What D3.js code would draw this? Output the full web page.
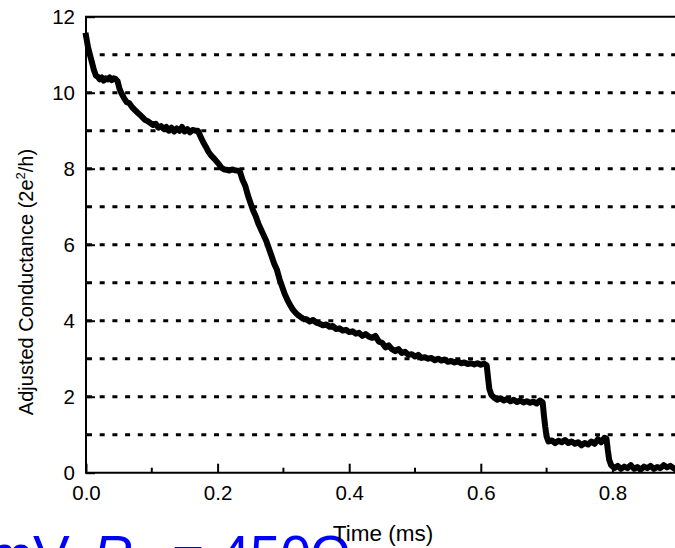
<!DOCTYPE html>
<html>
<head>
<meta charset="utf-8">
<script src="https://cdn.jsdelivr.net/npm/d3@7"></script>
<style>
  html, body { margin: 0; padding: 0; background: #fff; overflow: hidden; }
  svg { display: block; font-family: "Liberation Sans", Arial, sans-serif; }
</style>
</head>
<body>
<div id="chart"></div>
<script>
// time (ms) and adjusted conductance (2e^2/h)
const timeMs = [
  0.000, 0.003, 0.006, 0.009, 0.012, 0.015, 0.018, 0.021, 0.024, 0.027,
  0.030, 0.033, 0.036, 0.039, 0.042, 0.045, 0.048, 0.051, 0.054, 0.058,
  0.062, 0.066, 0.070, 0.074, 0.078, 0.082, 0.086, 0.090, 0.094, 0.098,
  0.102, 0.106, 0.110, 0.114, 0.118, 0.122, 0.126, 0.130, 0.134, 0.138,
  0.142, 0.146, 0.150, 0.154, 0.158, 0.162, 0.166, 0.170, 0.174, 0.178,
  0.182, 0.186, 0.190, 0.194, 0.198, 0.202, 0.206, 0.210, 0.214, 0.218,
  0.222, 0.226, 0.230, 0.234, 0.238, 0.242, 0.246, 0.250, 0.254, 0.258,
  0.262, 0.266, 0.270, 0.274, 0.278, 0.282, 0.286, 0.290, 0.294, 0.298,
  0.302, 0.306, 0.310, 0.314, 0.318, 0.322, 0.326, 0.330, 0.335, 0.340,
  0.345, 0.350, 0.355, 0.360, 0.365, 0.370, 0.375, 0.380, 0.385, 0.390,
  0.395, 0.400, 0.405, 0.410, 0.415, 0.420, 0.425, 0.430, 0.435, 0.440,
  0.445, 0.450, 0.455, 0.460, 0.465, 0.470, 0.475, 0.480, 0.485, 0.490,
  0.495, 0.500, 0.505, 0.510, 0.515, 0.520, 0.525, 0.530, 0.535, 0.540,
  0.545, 0.550, 0.555, 0.560, 0.565, 0.570, 0.575, 0.580, 0.585, 0.590,
  0.595, 0.600, 0.605, 0.609, 0.611, 0.613, 0.616, 0.620, 0.625, 0.630,
  0.635, 0.640, 0.645, 0.650, 0.655, 0.660, 0.665, 0.670, 0.675, 0.680,
  0.685, 0.690, 0.694, 0.696, 0.698, 0.700, 0.703, 0.708, 0.713, 0.718,
  0.723, 0.728, 0.733, 0.738, 0.743, 0.748, 0.753, 0.758, 0.763, 0.768,
  0.773, 0.778, 0.783, 0.788, 0.791, 0.793, 0.795, 0.798, 0.803, 0.808,
  0.813, 0.818, 0.823, 0.828, 0.833, 0.838, 0.843, 0.848, 0.853, 0.858,
  0.863, 0.868, 0.873, 0.878, 0.883, 0.888, 0.893
]
const conductance = [
  11.50, 11.20, 11.00, 10.80, 10.60, 10.45, 10.42, 10.35, 10.40, 10.32,
  10.38, 10.35, 10.40, 10.33, 10.38, 10.36, 10.30, 10.10, 9.98, 9.85,
  9.75, 9.72, 9.62, 9.55, 9.48, 9.42, 9.35, 9.28, 9.25, 9.20,
  9.15, 9.18, 9.08, 9.12, 9.05, 9.10, 9.00, 9.08, 8.98, 9.06,
  9.00, 9.10, 8.98, 9.04, 8.96, 9.02, 9.00, 9.00, 8.85, 8.70,
  8.58, 8.45, 8.35, 8.28, 8.20, 8.12, 8.02, 7.98, 7.97, 7.95,
  7.98, 7.96, 7.95, 7.92, 7.70, 7.55, 7.30, 7.10, 6.90, 6.75,
  6.55, 6.40, 6.25, 6.10, 5.90, 5.70, 5.50, 5.35, 5.10, 4.90,
  4.70, 4.55, 4.42, 4.30, 4.22, 4.15, 4.10, 4.05, 4.04, 3.98,
  4.02, 3.95, 3.92, 3.88, 3.90, 3.84, 3.86, 3.78, 3.80, 3.74,
  3.76, 3.70, 3.72, 3.66, 3.68, 3.60, 3.65, 3.58, 3.55, 3.60,
  3.45, 3.42, 3.30, 3.35, 3.25, 3.20, 3.25, 3.15, 3.18, 3.10,
  3.12, 3.06, 3.10, 3.02, 3.04, 3.00, 3.02, 2.96, 3.00, 2.95,
  2.98, 2.92, 2.94, 2.90, 2.93, 2.88, 2.90, 2.86, 2.88, 2.85,
  2.88, 2.84, 2.87, 2.82, 2.50, 2.20, 2.05, 1.98, 1.92, 1.96,
  1.90, 1.94, 1.88, 1.92, 1.86, 1.90, 1.85, 1.88, 1.84, 1.87,
  1.82, 1.90, 1.85, 1.50, 1.20, 0.95, 0.82, 0.85, 0.78, 0.84,
  0.80, 0.86, 0.78, 0.82, 0.76, 0.80, 0.72, 0.78, 0.74, 0.82,
  0.76, 0.88, 0.80, 0.92, 0.90, 0.60, 0.35, 0.20, 0.12, 0.18,
  0.10, 0.16, 0.12, 0.20, 0.10, 0.15, 0.08, 0.16, 0.12, 0.18,
  0.10, 0.15, 0.12, 0.20, 0.14, 0.18, 0.12
]
const gridLevels = [1, 2, 3, 4, 5, 6, 7, 8, 9, 10, 11]
const xTicks = [0, 0.2, 0.4, 0.6, 0.8]
const xMinorTicks = [0.1, 0.3, 0.5, 0.7, 0.9]
const yTicks = [0, 2, 4, 6, 8, 10, 12]

const width = 675
const height = 548
const plotLeft = 86
const plotTop = 16.7
const plotBottom = 472.7
const plotRight = plotLeft + 658 // axis runs past the cropped edge

const x = d3.scaleLinear().domain([0, 1]).range([plotLeft, plotRight])
const y = d3.scaleLinear().domain([0, 12]).range([plotBottom, plotTop])

const svg = d3.select('#chart')
  .append('svg')
  .attr('width', width)
  .attr('height', height)

// blue caption from the slide, cut off by the bottom edge, behind the axis title
const caption = svg.append('g')
  .attr('fill', '#0000ff')
  .attr('font-size', 55)
caption.append('text').attr('x', 80).attr('y', 574).attr('text-anchor', 'end').text('mV,')
caption.append('text').attr('x', 93).attr('y', 574).attr('font-style', 'italic').text('R')
caption.append('text').attr('x', 131).attr('y', 584).attr('font-size', 36).text('s')
caption.append('text').attr('x', 172).attr('y', 574).text('= 450')
caption.append('text').attr('x', 310).attr('y', 574).text('Ω')

// dotted levels
svg.append('g')
  .selectAll('line')
  .data(gridLevels)
  .join('line')
  .attr('x1', plotLeft + 1)
  .attr('x2', plotRight)
  .attr('y1', d => y(d))
  .attr('y2', d => y(d))
  .attr('stroke', '#000')
  .attr('stroke-width', 3)
  .attr('stroke-dasharray', '5,7.7')

// trace
const points = timeMs.map((t, i) => [t, conductance[i]])
svg.append('path')
  .datum(points)
  .attr('fill', 'none')
  .attr('stroke', '#000')
  .attr('stroke-width', 6)
  .attr('stroke-linejoin', 'round')
  .attr('stroke-linecap', 'square')
  .attr('d', d3.line().x(d => x(d[0])).y(d => y(d[1])))

// frame
svg.append('path')
  .attr('d', `M${plotRight},${plotTop}H${plotLeft}V${plotBottom}H${plotRight}`)
  .attr('fill', 'none')
  .attr('stroke', '#000')
  .attr('stroke-width', 2)

// x axis, ticks pointing inward
const xAxis = svg.append('g')
  .attr('transform', `translate(0,${plotBottom})`)
  .call(d3.axisBottom(x).tickValues(xTicks).tickFormat(d3.format('.1f')).tickSizeInner(-9).tickSizeOuter(0).tickPadding(13))
xAxis.select('.domain').remove()
xAxis.selectAll('line').attr('stroke-width', 2)
xAxis.selectAll('text').attr('font-size', 20.5).attr('font-family', '"Liberation Sans", Arial, sans-serif')

svg.append('g')
  .selectAll('line')
  .data(xMinorTicks)
  .join('line')
  .attr('x1', d => x(d))
  .attr('x2', d => x(d))
  .attr('y1', plotBottom)
  .attr('y2', plotBottom - 5)
  .attr('stroke', '#000')
  .attr('stroke-width', 2)

// y axis
const yAxis = svg.append('g')
  .attr('transform', `translate(${plotLeft},0)`)
  .call(d3.axisLeft(y).tickValues(yTicks).tickFormat(d3.format('d')).tickSizeInner(-9).tickSizeOuter(0).tickPadding(11))
yAxis.select('.domain').remove()
yAxis.selectAll('line').attr('stroke-width', 2)
yAxis.selectAll('text').attr('font-size', 20.5).attr('font-family', '"Liberation Sans", Arial, sans-serif')

// axis titles
const yTitle = svg.append('text')
  .attr('transform', 'translate(33,282) rotate(-90)')
  .attr('text-anchor', 'middle')
  .attr('font-size', 20)
  .attr('fill', '#000')
yTitle.append('tspan').text('Adjusted Conductance (2e')
yTitle.append('tspan').attr('font-size', 13).attr('dy', -8).text('2')
yTitle.append('tspan').attr('dy', 8).text('/h)')

svg.append('text')
  .attr('x', 383)
  .attr('y', 541)
  .attr('text-anchor', 'middle')
  .attr('font-size', 22.5)
  .attr('fill', '#000')
  .text('Time (ms)')
</script>
</body>
</html>
